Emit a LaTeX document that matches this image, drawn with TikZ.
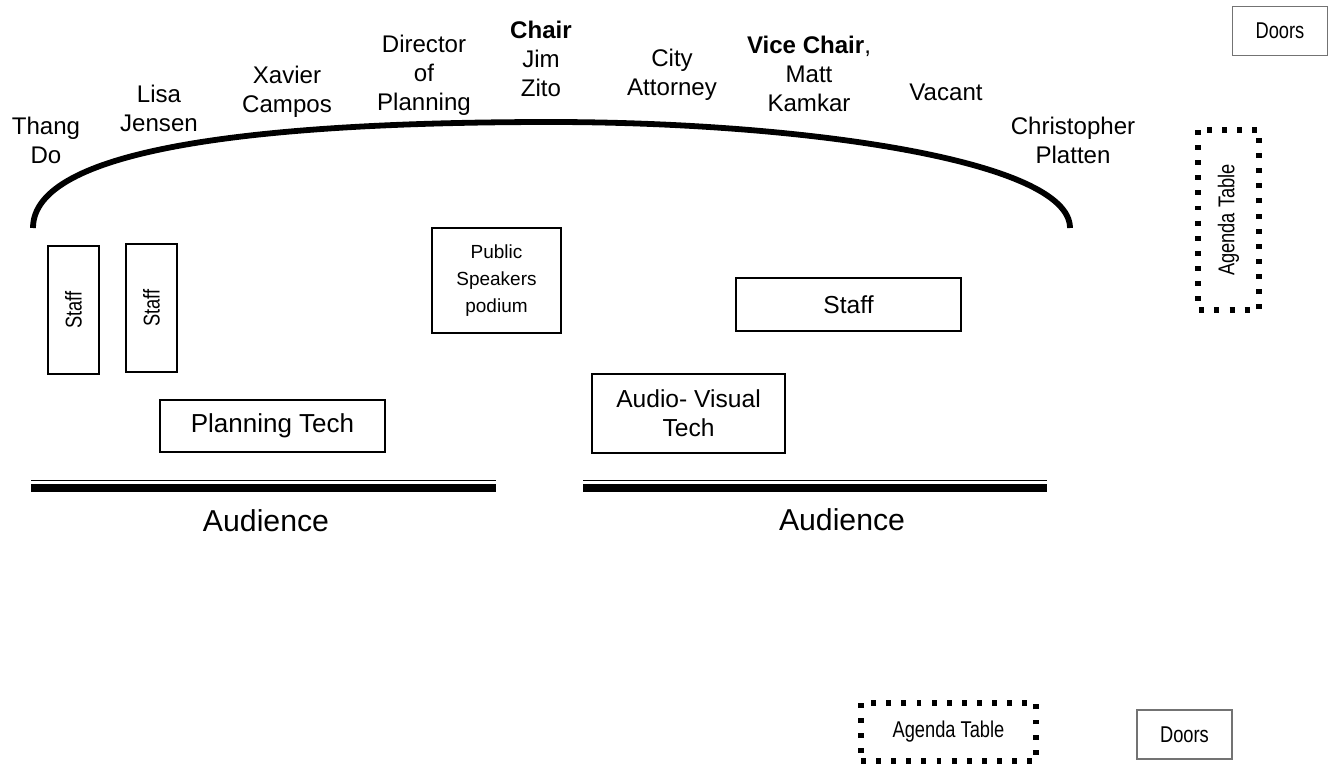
\documentclass[tikz,border=0pt]{standalone}
\usepackage{fontspec}
\setmainfont{Liberation Sans}
\newfontfamily\narrowfont[FakeStretch=0.8]{Liberation Sans}
\usetikzlibrary{positioning}

\newcommand\seatfont{\fontsize{13.7}{16.5}\selectfont}
\newcommand\audfont{\fontsize{17.2}{20}\selectfont}
\newcommand\smallnarrow{\narrowfont\fontsize{13}{15}\selectfont}

\begin{document}
\begin{tikzpicture}[x=0.02cm, y=-0.02cm, every node/.style={align=center, font=\seatfont},
  tbl/.style={draw, line width=0.8pt, inner sep=0pt},
  door/.style={draw=black!55, line width=1pt, inner sep=0pt, minimum width=1.9cm, minimum height=0.98cm, font=\smallnarrow},
  agenda/.style={draw, line width=2.9pt, dash pattern=on 2.8pt off 5.8pt, inner sep=0pt, font=\smallnarrow}]
\useasboundingbox (0,0) rectangle (1332,765);
% dais
\draw[line width=3.3pt] (33,228) .. controls (33,150) and (250,122) .. (551,122)
  .. controls (800,122) and (1070,160) .. (1070,228);
\node (thang) at (46,140) {Thang\\Do};
\node (lisa) at (159,108) {Lisa\\Jensen};
\node (xavier) at (287,92) {Xavier\\Campos};
\node (director) at (424,75) {Director\\of\\Planning};
\node (chair) at (541,59) {\textbf{Chair}\\Jim\\Zito};
\node (attorney) at (672,75) {City\\Attorney};
\node (vice) at (809,74) {\textbf{Vice Chair},\\Matt\\Kamkar};
\node (vacant) at (946,92) {Vacant};
\node (platten) at (1073,140) {Christopher\\Platten};
% tables
\node[tbl, rotate=90, minimum width=2.56cm, minimum height=1.02cm, font=\smallnarrow] (staff a) at (73.5,310) {Staff};
\node[tbl, rotate=90, minimum width=2.56cm, minimum height=1.02cm, font=\smallnarrow] (staff b) at (151.5,308) {Staff};
\node[tbl, minimum width=2.58cm, minimum height=2.1cm, font=\fontsize{10.8}{15.4}\selectfont] (podium) at (496.5,280.5) {Public\\Speakers\\podium};
\node[tbl, minimum width=4.5cm, minimum height=1.04cm, font=\fontsize{14.8}{17}\selectfont] (plan tech) at (272.5,426) {Planning Tech};
\node[tbl, minimum width=4.5cm, minimum height=1.06cm, font=\fontsize{14}{17}\selectfont] (staff c) at (848.5,304.5) {Staff};
\node[tbl, minimum width=3.86cm, minimum height=1.58cm, font=\fontsize{14}{16.5}\selectfont] (av tech) at (688.5,413.5) {Audio- Visual\\Tech};
% audience rails
\foreach \xa/\xb in {31/496, 583/1047} {
  \draw[line width=1.1pt] (\xa,480.5) -- (\xb,480.5);
  \draw[line width=4pt] (\xa,488) -- (\xb,488);
}
\node[font=\audfont] (aud left) at (266,521) {Audience};
\node[font=\audfont] (aud right) at (842,519.5) {Audience};
% doors and agenda tables
\node[door] (doors top) at (1280,31) {Doors};
\node[door] (doors bottom) at (1184.5,734.5) {Doors};
\node[agenda, rotate=90, minimum width=3.6cm, minimum height=1.22cm] (agenda side) at (1228.5,220) {Agenda Table};
\node[agenda, minimum width=3.5cm, minimum height=1.16cm] (agenda bottom) at (948.5,732) {Agenda Table};
\end{tikzpicture}
\end{document}
